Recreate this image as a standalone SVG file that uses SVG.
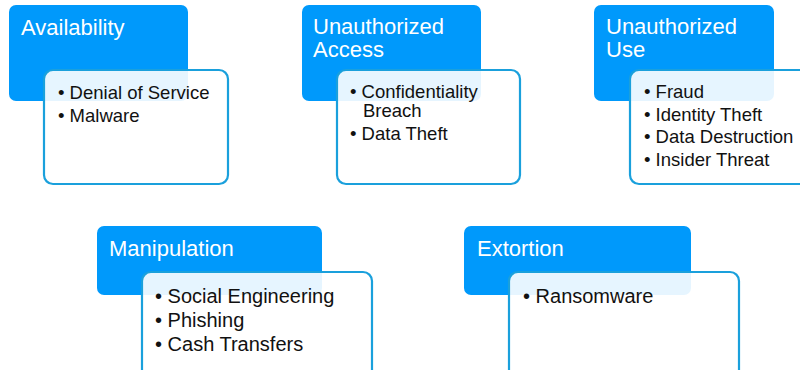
<svg xmlns="http://www.w3.org/2000/svg" width="800" height="370" viewBox="0 0 800 370">
  <style>
    .head { fill: #0099fb; }
    .card { fill: #ffffff; fill-opacity: 0.9; stroke: #1aa0dc; stroke-width: 2.2; }
    .title { font-family: "Liberation Sans", Arial, sans-serif; font-size: 22px; fill: #ffffff; }
    .item { font-family: "Liberation Sans", Arial, sans-serif; font-size: 18.5px; fill: #111111; }
    .item2 { font-family: "Liberation Sans", Arial, sans-serif; font-size: 20px; fill: #111111; }
  </style>
  <rect width="800" height="370" fill="#ffffff"/>

  <g id="availability">
    <rect class="head" x="9" y="5" width="179" height="96" rx="7"/>
    <text class="title" x="21" y="35">Availability</text>
    <rect class="card" x="44" y="70" width="184" height="114" rx="9"/>
    <text class="item" x="58" y="99">• Denial of Service</text>
    <text class="item" x="58" y="122">• Malware</text>
  </g>

  <g id="unauthorized-access">
    <rect class="head" x="302" y="5" width="179" height="96" rx="7"/>
    <text class="title" x="313" y="34">Unauthorized</text>
    <text class="title" x="313" y="57">Access</text>
    <rect class="card" x="337" y="70" width="183" height="114" rx="9"/>
    <text class="item" x="350" y="98">• Confidentiality</text>
    <text class="item" x="363" y="117">Breach</text>
    <text class="item" x="350" y="140">• Data Theft</text>
  </g>

  <g id="unauthorized-use">
    <rect class="head" x="594" y="5" width="180" height="96" rx="7"/>
    <text class="title" x="606" y="34">Unauthorized</text>
    <text class="title" x="606" y="57">Use</text>
    <rect class="card" x="630" y="70" width="184" height="114" rx="9"/>
    <text class="item" x="644" y="98">• Fraud</text>
    <text class="item" x="644" y="121">• Identity Theft</text>
    <text class="item" x="644" y="143">• Data Destruction</text>
    <text class="item" x="644" y="166">• Insider Threat</text>
  </g>

  <g id="manipulation">
    <rect class="head" x="97" y="226" width="225" height="69" rx="7"/>
    <text class="title" x="109" y="256">Manipulation</text>
    <rect class="card" x="142" y="272" width="230" height="114" rx="9"/>
    <text class="item2" x="155" y="303">• Social Engineering</text>
    <text class="item2" x="155" y="327">• Phishing</text>
    <text class="item2" x="155" y="351">• Cash Transfers</text>
  </g>

  <g id="extortion">
    <rect class="head" x="464" y="226" width="227" height="69" rx="7"/>
    <text class="title" x="477" y="256">Extortion</text>
    <rect class="card" x="509" y="272" width="230" height="114" rx="9"/>
    <text class="item2" x="523" y="303">• Ransomware</text>
  </g>

  <g id="connectors"/>
</svg>
